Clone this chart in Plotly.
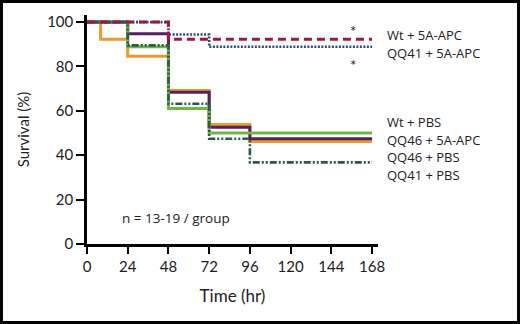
import plotly.graph_objects as go

# Kaplan-Meier step data (time in hr, survival %)
wt_apc_t = [0, 48, 168]
wt_apc_s = [100, 92.3, 92.3]

qq41_apc_t = [0, 48, 72, 168]
qq41_apc_s = [100, 94.4, 88.9, 88.9]

orange_t = [0, 8, 24, 48, 72, 96, 168]
orange_s = [100, 92.3, 84.6, 69.2, 53.8, 46.2, 46.2]

purple_t = [0, 24, 48, 72, 96, 168]
purple_s = [100, 94.7, 68.4, 52.6, 47.4, 47.4]

green_t = [0, 24, 48, 72, 168]
green_s = [100, 88.9, 61.1, 50.0, 50.0]

dkgreen_t = [0, 24, 48, 72, 96, 168]
dkgreen_s = [100, 89.5, 63.2, 47.4, 36.8, 36.8]

x_ticks = [0, 24, 48, 72, 96, 120, 144, 168]
y_ticks = [0, 20, 40, 60, 80, 100]

labels = ["Wt + 5A-APC", "QQ41 + 5A-APC", "Wt + PBS", "QQ46 + 5A-APC", "QQ46 + PBS", "QQ41 + PBS"]
labels_py = [35, 53, 122, 140, 157, 175]   # label rows (pixel rows of the reference)

FONT = "Lato"
LFONT = "Open Sans"
L, R, T, B = 87, 142, 15, 80
W, H = 520, 324
pw, ph = W - L - R, H - T - B

def px_x(px):
    return (px - L) / pw

def px_y(py):
    return (H - B - py) / ph

fig = go.Figure()

def add(t, s, color, dash="solid", width=3):
    fig.add_trace(go.Scatter(x=t, y=s, mode="lines", line_shape="hv",
                             line=dict(color=color, width=width, dash=dash),
                             showlegend=False, hoverinfo="skip"))

add(orange_t, orange_s, "#e99a30")
add(purple_t, purple_s, "#55205f")
add(green_t, green_s, "#71b44a")
add(dkgreen_t, dkgreen_s, "#2d5a46", dash="7px,2px,2px,2px,2px,2px", width=2.6)
add(qq41_apc_t, qq41_apc_s, "#2b4a86", dash="2px,1.5px", width=2.6)
add(wt_apc_t, wt_apc_s, "#a3173f", dash="8px,5px", width=3)

fig.update_layout(
    width=W, height=H,
    margin=dict(l=L, r=R, t=T, b=B, autoexpand=False),
    paper_bgcolor="white", plot_bgcolor="white",
    font=dict(family=FONT, color="#222", size=15),
    xaxis=dict(range=[0, 171.5], tickvals=x_ticks, ticks="outside", ticklen=7,
               tickwidth=2.2, tickcolor="black", showline=True, linecolor="black",
               linewidth=2.5, showgrid=False, zeroline=False, automargin=False,
               tickfont=dict(size=15, family=FONT, color="#222"),
               title=dict(text="Time (hr)", font=dict(size=17, family=FONT, color="#222"), standoff=17)),
    yaxis=dict(range=[0, 103.2], tickvals=y_ticks, ticks="outside", ticklen=8,
               tickwidth=2.2, tickcolor="black", showline=True, linecolor="black",
               linewidth=2.5, showgrid=False, zeroline=False, automargin=False,
               tickfont=dict(size=15, family=FONT, color="#222"),
               title=dict(text="Survival (%)", font=dict(size=15, family=FONT, color="#222"), standoff=14)),
)

for txt, py in zip(labels, labels_py):
    fig.add_annotation(x=px_x(385), y=px_y(py), xref="paper", yref="paper", text=txt,
                       showarrow=False, xanchor="left", yanchor="middle",
                       font=dict(size=13, family=LFONT, color="#222"))

for py in [31, 65]:
    fig.add_annotation(x=px_x(353), y=px_y(py), xref="paper", yref="paper", text="*",
                       showarrow=False, xanchor="center", yanchor="middle",
                       font=dict(size=15, family=FONT, color="#222"))

fig.add_annotation(x=px_x(120), y=px_y(218), xref="paper", yref="paper",
                   text="n = 13-19 / group", showarrow=False, xanchor="left", yanchor="middle",
                   font=dict(size=13.5, family=LFONT, color="#222"))

# outer black frame
fig.add_shape(type="rect", xref="paper", yref="paper",
              x0=px_x(1.5), x1=px_x(518.5), y0=px_y(322.5), y1=px_y(1.5),
              line=dict(color="black", width=3), fillcolor="rgba(0,0,0,0)")

fig.write_html("out.html", config={"displayModeBar": False},
               post_script="document.body.style.margin='0px';document.body.style.padding='0px';")
